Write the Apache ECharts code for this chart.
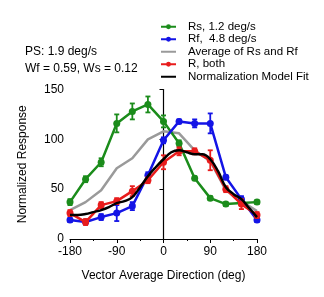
<!DOCTYPE html>
<html><head><meta charset="utf-8">
<script src="https://cdn.jsdelivr.net/npm/echarts@6/dist/echarts.min.js"></script>
<style>html,body{margin:0;padding:0;background:#fff}#c{width:324px;height:297px}</style>
</head><body><div id="c"></div>
<script>
const directions = [-180,-150,-120,-90,-60,-30,0,30,60,90,120,150,180];
const rsValues   = [37,60,77,116,128,135,118,96,61,41,35,36,37];
const rsErrors   = [3,3,4,9,8,8,6,3,2,2,2,2,2];
const rfValues   = [19,17,22,26,33,64,99,118,116,116,62,40,19];
const rfErrors   = [2,2,3,8,4,3,3,2,4,10,2,3,2];
const avgValues  = [29,37,49,71,81,100,108,106,89,78,49,38,28];
const bothValues = [26,17,34,38,48,59,77,88,88,79,50,35,24];
const bothErrors = [3,3,3,3,5,3,7,4,3,10,3,5,3];
const fitDirections = [-180,-165,-150,-135,-120,-105,-90,-75,-60,-45,-30,-15,0,15,30,45,60,75,90,105,120,135,150,165,180];
const fitValues     = [24,24,25,27,29,32,36,38,42,52,63,72,80,87,89,87,85,85,80,68,52,45,40,31,22];
const xTicks = [-180,-90,0,90,180];
const yTicks = [0,50,100,150];
const names = ['Rs, 1.2 deg/s','Rf,  4.8 deg/s','Average of Rs and Rf','R, both','Normalization Model Fit'];
const colors = {rs:'#1b8c1b', rf:'#1414e6', avg:'#9a9a9a', both:'#e81c1c', fit:'#000000'};

const pairs = (xs, ys) => xs.map((x,i)=>[x, ys[i]]);
const errData = (ys, es) => directions.map((x,i)=>[x, ys[i]-es[i], ys[i]+es[i]]);
function errSeries(ys, es, color, z){
  return {
    type:'custom', name:'err'+color, z:z, silent:true,
    data: errData(ys, es),
    encode:{x:0, y:[1,2]},
    renderItem:function(params, api){
      const x = api.value(0);
      const lo = api.coord([x, api.value(1)]);
      const hi = api.coord([x, api.value(2)]);
      const w = 2.5;
      const st = {stroke:color, lineWidth:1.8};
      return {type:'group', children:[
        {type:'line', shape:{x1:lo[0],y1:lo[1],x2:hi[0],y2:hi[1]}, style:st},
        {type:'line', shape:{x1:lo[0]-w,y1:lo[1],x2:lo[0]+w,y2:lo[1]}, style:st},
        {type:'line', shape:{x1:hi[0]-w,y1:hi[1],x2:hi[0]+w,y2:hi[1]}, style:st}
      ]};
    }
  };
}
const font = 'Liberation Sans, Arial, sans-serif';
const chart = echarts.init(document.getElementById('c'));
chart.setOption({
  animation:false,
  textStyle:{fontFamily:font},
  grid:{left:70, right:67, top:89.5, bottom:58, containLabel:false},
  legend:{
    data:[
      {name:names[0]},
      {name:names[1]},
      {name:names[2], itemStyle:{opacity:0}},
      {name:names[3]},
      {name:names[4], itemStyle:{opacity:0}}
    ],
    orient:'vertical', left:155, top:15.5,
    itemWidth:15, itemHeight:6, itemGap:0,
    formatter: n => '{g|}' + '{t|' + n + '}',
    textStyle:{fontFamily:font, fontSize:11.5, color:'#000', lineHeight:12.5,
      rich:{g:{width:7, lineHeight:12.5}, t:{fontFamily:font, fontSize:11.5, color:'#000', lineHeight:12.5}}}
  },
  graphic:[
    {type:'text', left:25, top:46, style:{text:'PS: 1.9 deg/s', font:'12px '+font, fill:'#000'}},
    {type:'text', left:25, top:63, style:{text:'Wf = 0.59, Ws = 0.12', font:'12px '+font, fill:'#000'}}
  ],
  xAxis:{
    type:'value', min:xTicks[0], max:xTicks[xTicks.length-1], interval:90,
    name:'Vector Average Direction (deg)', nameLocation:'middle', nameGap:31,
    nameTextStyle:{fontSize:12, color:'#000', fontFamily:font},
    axisLine:{lineStyle:{color:'#000', width:1.2}},
    axisTick:{length:4, lineStyle:{color:'#000'}},
    minorTick:{show:true, splitNumber:2, length:2, lineStyle:{color:'#000'}},
    axisLabel:{fontSize:12, color:'#000', margin:7, fontFamily:font},
    splitLine:{show:false}
  },
  yAxis:{
    type:'value', min:yTicks[0], max:yTicks[yTicks.length-1], interval:50,
    name:'Normalized Response', nameLocation:'middle', nameGap:41, nameRotate:90,
    nameTextStyle:{fontSize:12, color:'#000', fontFamily:font},
    axisLine:{show:true, lineStyle:{color:'#000', width:1.2}},
    axisTick:{show:true, length:4, lineStyle:{color:'#000'}},
    axisLabel:{fontSize:12, color:'#000', margin:6, fontFamily:font},
    splitLine:{show:false}
  },
  series:[
    {name:names[2], type:'line', data:pairs(directions, avgValues), symbol:'none', z:2,
     lineStyle:{color:colors.avg, width:2.5}, itemStyle:{color:colors.avg}},
    {name:names[0], type:'line', data:pairs(directions, rsValues), symbol:'circle', symbolSize:7, z:3,
     lineStyle:{color:colors.rs, width:2.5}, itemStyle:{color:colors.rs}},
    errSeries(rsValues, rsErrors, colors.rs, 3),
    {name:names[1], type:'line', data:pairs(directions, rfValues), symbol:'circle', symbolSize:7, z:4,
     lineStyle:{color:colors.rf, width:2.5}, itemStyle:{color:colors.rf}},
    errSeries(rfValues, rfErrors, colors.rf, 4),
    {name:names[3], type:'line', data:pairs(directions, bothValues), symbol:'circle', symbolSize:7, z:5,
     lineStyle:{color:colors.both, width:2.5}, itemStyle:{color:colors.both}},
    errSeries(bothValues, bothErrors, colors.both, 5),
    {name:names[4], type:'line', data:pairs(fitDirections, fitValues), symbol:'none', smooth:0.4, z:6,
     lineStyle:{color:colors.fit, width:2.5}, itemStyle:{color:colors.fit}}
  ]
});
</script></body></html>
